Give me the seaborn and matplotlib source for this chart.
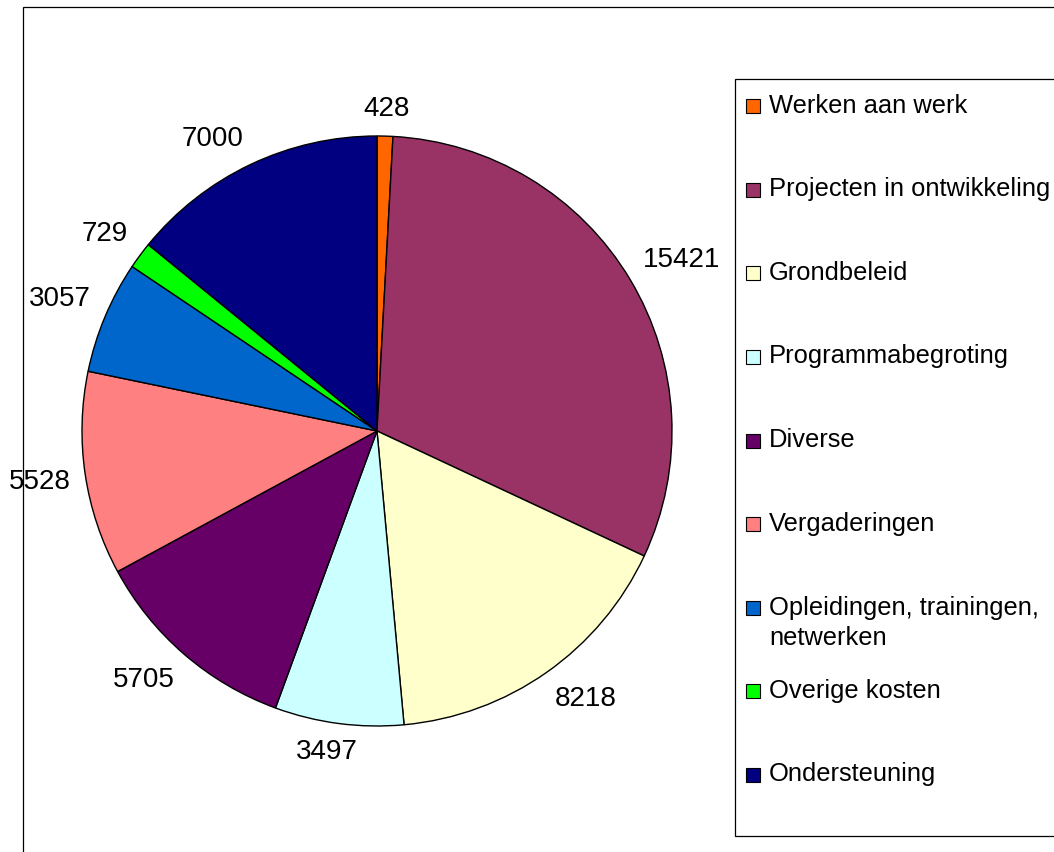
import matplotlib
matplotlib.use("Agg")
import matplotlib.pyplot as plt
import matplotlib.patches as mpatches
import numpy as np
import seaborn as sns

categories = ["Werken aan werk", "Projecten in ontwikkeling", "Grondbeleid",
              "Programmabegroting", "Diverse", "Vergaderingen",
              "Opleidingen, trainingen,\nnetwerken", "Overige kosten", "Ondersteuning"]
values = [428, 15421, 8218, 3497, 5705, 5528, 3057, 729, 7000]
colors = ["#FF6600", "#993366", "#FFFFCC", "#CCFFFF", "#660066",
          "#FF8080", "#0066CC", "#00FF00", "#000080"]

sns.set_style("white")
plt.rcParams['font.family'] = ['Liberation Sans', 'DejaVu Sans']
plt.rcParams['text.color'] = 'black'

W, H = 1054, 853
fs_lab = 20
fs_leg = 18.4
fig = plt.figure(figsize=(W / 100, H / 100), dpi=100)

# pie centre and radius in pixels (y measured from top)
cx, cy, R = 377, 432, 295
ax = fig.add_axes([0, 0, 1, 1])
wedges, _ = ax.pie(values, colors=colors, startangle=90, counterclock=False,
                   radius=1, wedgeprops=dict(edgecolor="black", linewidth=1.0))
ax.set_xlim(-cx / R, (W - cx) / R)
ax.set_ylim(-(H - cy) / R, cy / R)
ax.axis("off")

# value labels outside the pie, shifted away from the edge like Excel does
fig.canvas.draw()
renderer = fig.canvas.get_renderer()
gap = 15
for w, v in zip(wedges, values):
    ang = np.deg2rad((w.theta1 + w.theta2) / 2)
    ux, uy = np.cos(ang), np.sin(ang)
    t = ax.text(0, 0, str(v), ha="center", va="center", fontsize=fs_lab, clip_on=False)
    bb = t.get_window_extent(renderer)
    px = (R + gap) * ux + bb.width / 2 * np.clip(2.5 * ux, -1, 1)
    py = (R + gap) * uy + bb.height / 2 * np.clip(2.5 * uy, -1, 1)
    t.set_position((px / R, py / R))

# outer chart frame (only left and top visible)
fig.add_artist(mpatches.Rectangle((22.5 / W, -0.1), 1.2, (H - 8) / H + 0.1,
                                  transform=fig.transFigure, fill=False,
                                  edgecolor="black", linewidth=0.9))

# legend box
fig.add_artist(mpatches.Rectangle((735 / W, (H - 837) / H), 0.5, (837 - 80) / H,
                                  transform=fig.transFigure, facecolor="white",
                                  edgecolor="black", linewidth=0.9))
step = 83.6
line_gap = 31
for i, (lab, col) in enumerate(zip(categories, colors)):
    base = 112.7 + i * step
    fig.add_artist(mpatches.Rectangle((746 / W, (H - base - 1.5) / H), 14 / W, 14 / H,
                                      transform=fig.transFigure, facecolor=col,
                                      edgecolor="black", linewidth=0.8))
    nlines = lab.count("\n") + 1
    fig.text(769 / W, (H - base - (nlines - 1) * line_gap) / H, lab,
             ha="left", va="baseline", fontsize=fs_leg, linespacing=1.34)

fig.savefig("out.png", dpi=100)
